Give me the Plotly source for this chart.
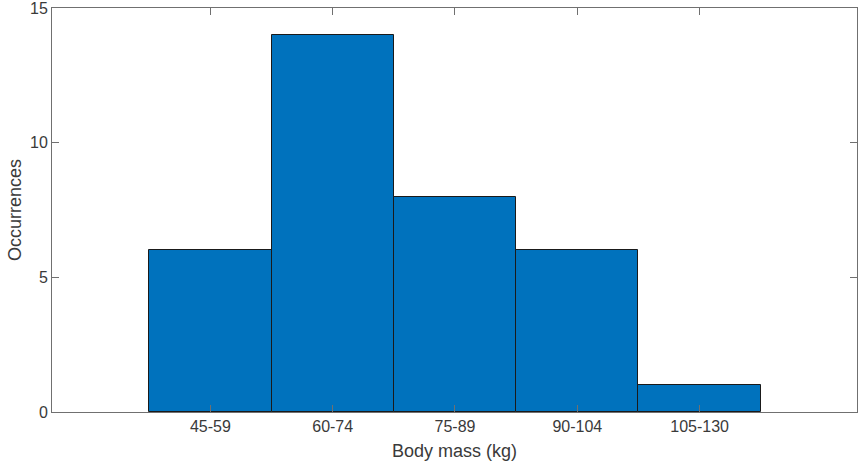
import plotly.graph_objects as go

categories = ["45-59", "60-74", "75-89", "90-104", "105-130"]
counts = [6, 14, 8, 6, 1]
y_ticks = [0, 5, 10, 15]

xpos = list(range(len(categories)))

fig = go.Figure()
fig.add_trace(go.Bar(
    x=xpos, y=counts, width=1.0,
    marker=dict(color="#0072BD", line=dict(color="#1a1a1a", width=1)),
    showlegend=False, hoverinfo="skip",
))

font_family = "Liberation Sans, Arial, Helvetica, sans-serif"
axis_color = "#707070"
text_color = "#3a3a3a"

fig.update_layout(
    width=858, height=467,
    margin=dict(l=52, r=1, t=8, b=55),
    paper_bgcolor="white", plot_bgcolor="white",
    font=dict(family=font_family, size=16, color=text_color),
    bargap=0,
    xaxis=dict(
        range=[-1.295, 5.287],
        tickmode="array", tickvals=xpos, ticktext=categories,
        ticks="inside", ticklen=7, tickcolor=axis_color, tickwidth=1,
        showline=True, linecolor=axis_color, linewidth=1, mirror="ticks",
        showgrid=False, zeroline=False, automargin=False,
        title=dict(text="Body mass (kg)", standoff=10, font=dict(size=18)),
        tickfont=dict(size=16),
        ticklabeloverflow="allow",
    ),
    yaxis=dict(
        range=[0, 15],
        tickmode="array", tickvals=y_ticks,
        ticks="inside", ticklen=7, tickcolor=axis_color, tickwidth=1,
        showline=True, linecolor=axis_color, linewidth=1, mirror="ticks",
        showgrid=False, zeroline=False, automargin=False,
        title=dict(text="Occurrences", standoff=3, font=dict(size=18)),
        tickfont=dict(size=16),
        ticklabeloverflow="allow",
    ),
)

fig.write_html(
    "out.html",
    config={"displayModeBar": False},
    post_script="document.body.style.margin='0px';document.body.style.overflow='hidden';",
)
